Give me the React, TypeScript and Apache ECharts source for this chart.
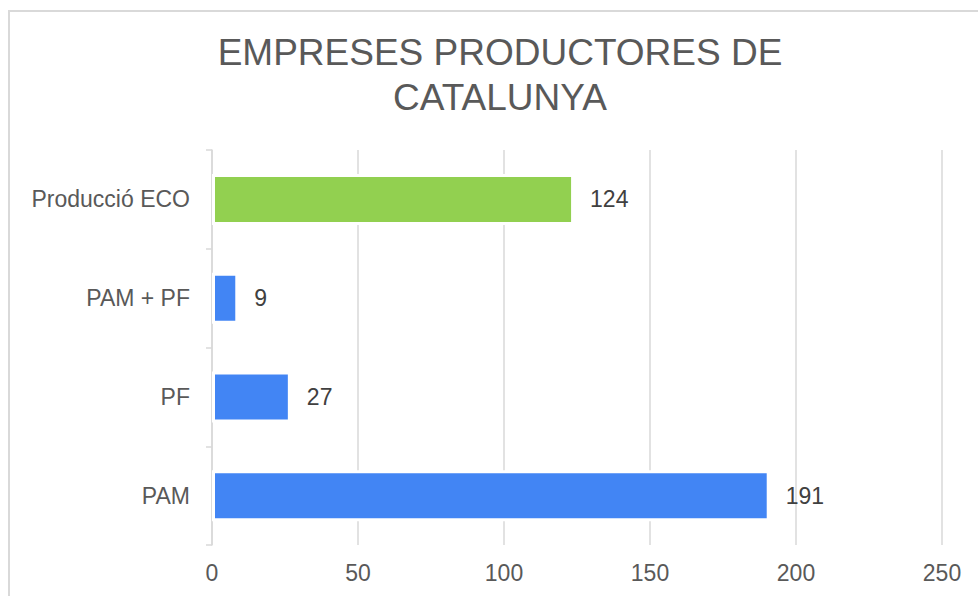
import React, { useEffect, useRef } from "react";
import * as echarts from "echarts";

const categories = ["PAM", "PF", "PAM + PF", "Producció ECO"];
const values = [191, 27, 9, 124];
const barColors = ["#4285F4", "#4285F4", "#4285F4", "#92D050"];
const xTicks = { min: 0, max: 250, interval: 50 };
const titleLines = ["EMPRESES PRODUCTORES DE", "CATALUNYA"];

const FONT = "'Liberation Sans', Arial, sans-serif";

export default function App() {
  const ref = useRef<HTMLDivElement>(null);
  useEffect(() => {
    if (!ref.current) return;
    const chart = echarts.init(ref.current, null, { renderer: "svg" });
    chart.setOption({
      animation: false,
      backgroundColor: "#ffffff",
      textStyle: { fontFamily: FONT },
      graphic: [
        {
          type: "rect",
          shape: { x: 9, y: 11, width: 1000, height: 620 },
          style: { fill: "none", stroke: "#d9d9d9", lineWidth: 2 },
          silent: true,
        },
        ...titleLines.map((t, i) => ({
          type: "text",
          x: 500,
          y: 52 + i * 45,
          style: {
            text: t,
            fontSize: 37,
            fontFamily: FONT,
            fill: "#595959",
            textAlign: "center",
            textVerticalAlign: "middle",
          },
        })),
      ],
      grid: { left: 212, right: 36, top: 150, bottom: 51, containLabel: false },
      xAxis: {
        type: "value",
        min: xTicks.min,
        max: xTicks.max,
        interval: xTicks.interval,
        axisLine: { show: false },
        axisTick: { show: false },
        splitLine: { show: true, lineStyle: { color: "#d9d9d9", width: 1.5 } },
        axisLabel: { fontSize: 23, color: "#595959", fontFamily: FONT, margin: 16 },
      },
      yAxis: {
        type: "category",
        data: categories,
        axisLine: { show: true, lineStyle: { color: "#d9d9d9", width: 1.5 } },
        axisTick: { show: true, length: 6, lineStyle: { color: "#d9d9d9", width: 1.5 } },
        axisLabel: { fontSize: 23, color: "#595959", fontFamily: FONT, margin: 22 },
      },
      series: [
        {
          type: "bar",
          barWidth: 51,
          data: values.map((v, i) => ({ value: v, itemStyle: { color: barColors[i] } })),
          itemStyle: { borderColor: "#ffffff", borderWidth: 3 },
          label: {
            show: true,
            position: "right",
            distance: 16,
            fontSize: 23,
            color: "#404040",
            fontFamily: FONT,
          },
        },
      ],
    });
    return () => chart.dispose();
  }, []);
  return (
    <div
      ref={ref}
      style={{ position: "absolute", left: 0, top: 0, width: 978, height: 596 }}
    />
  );
}
